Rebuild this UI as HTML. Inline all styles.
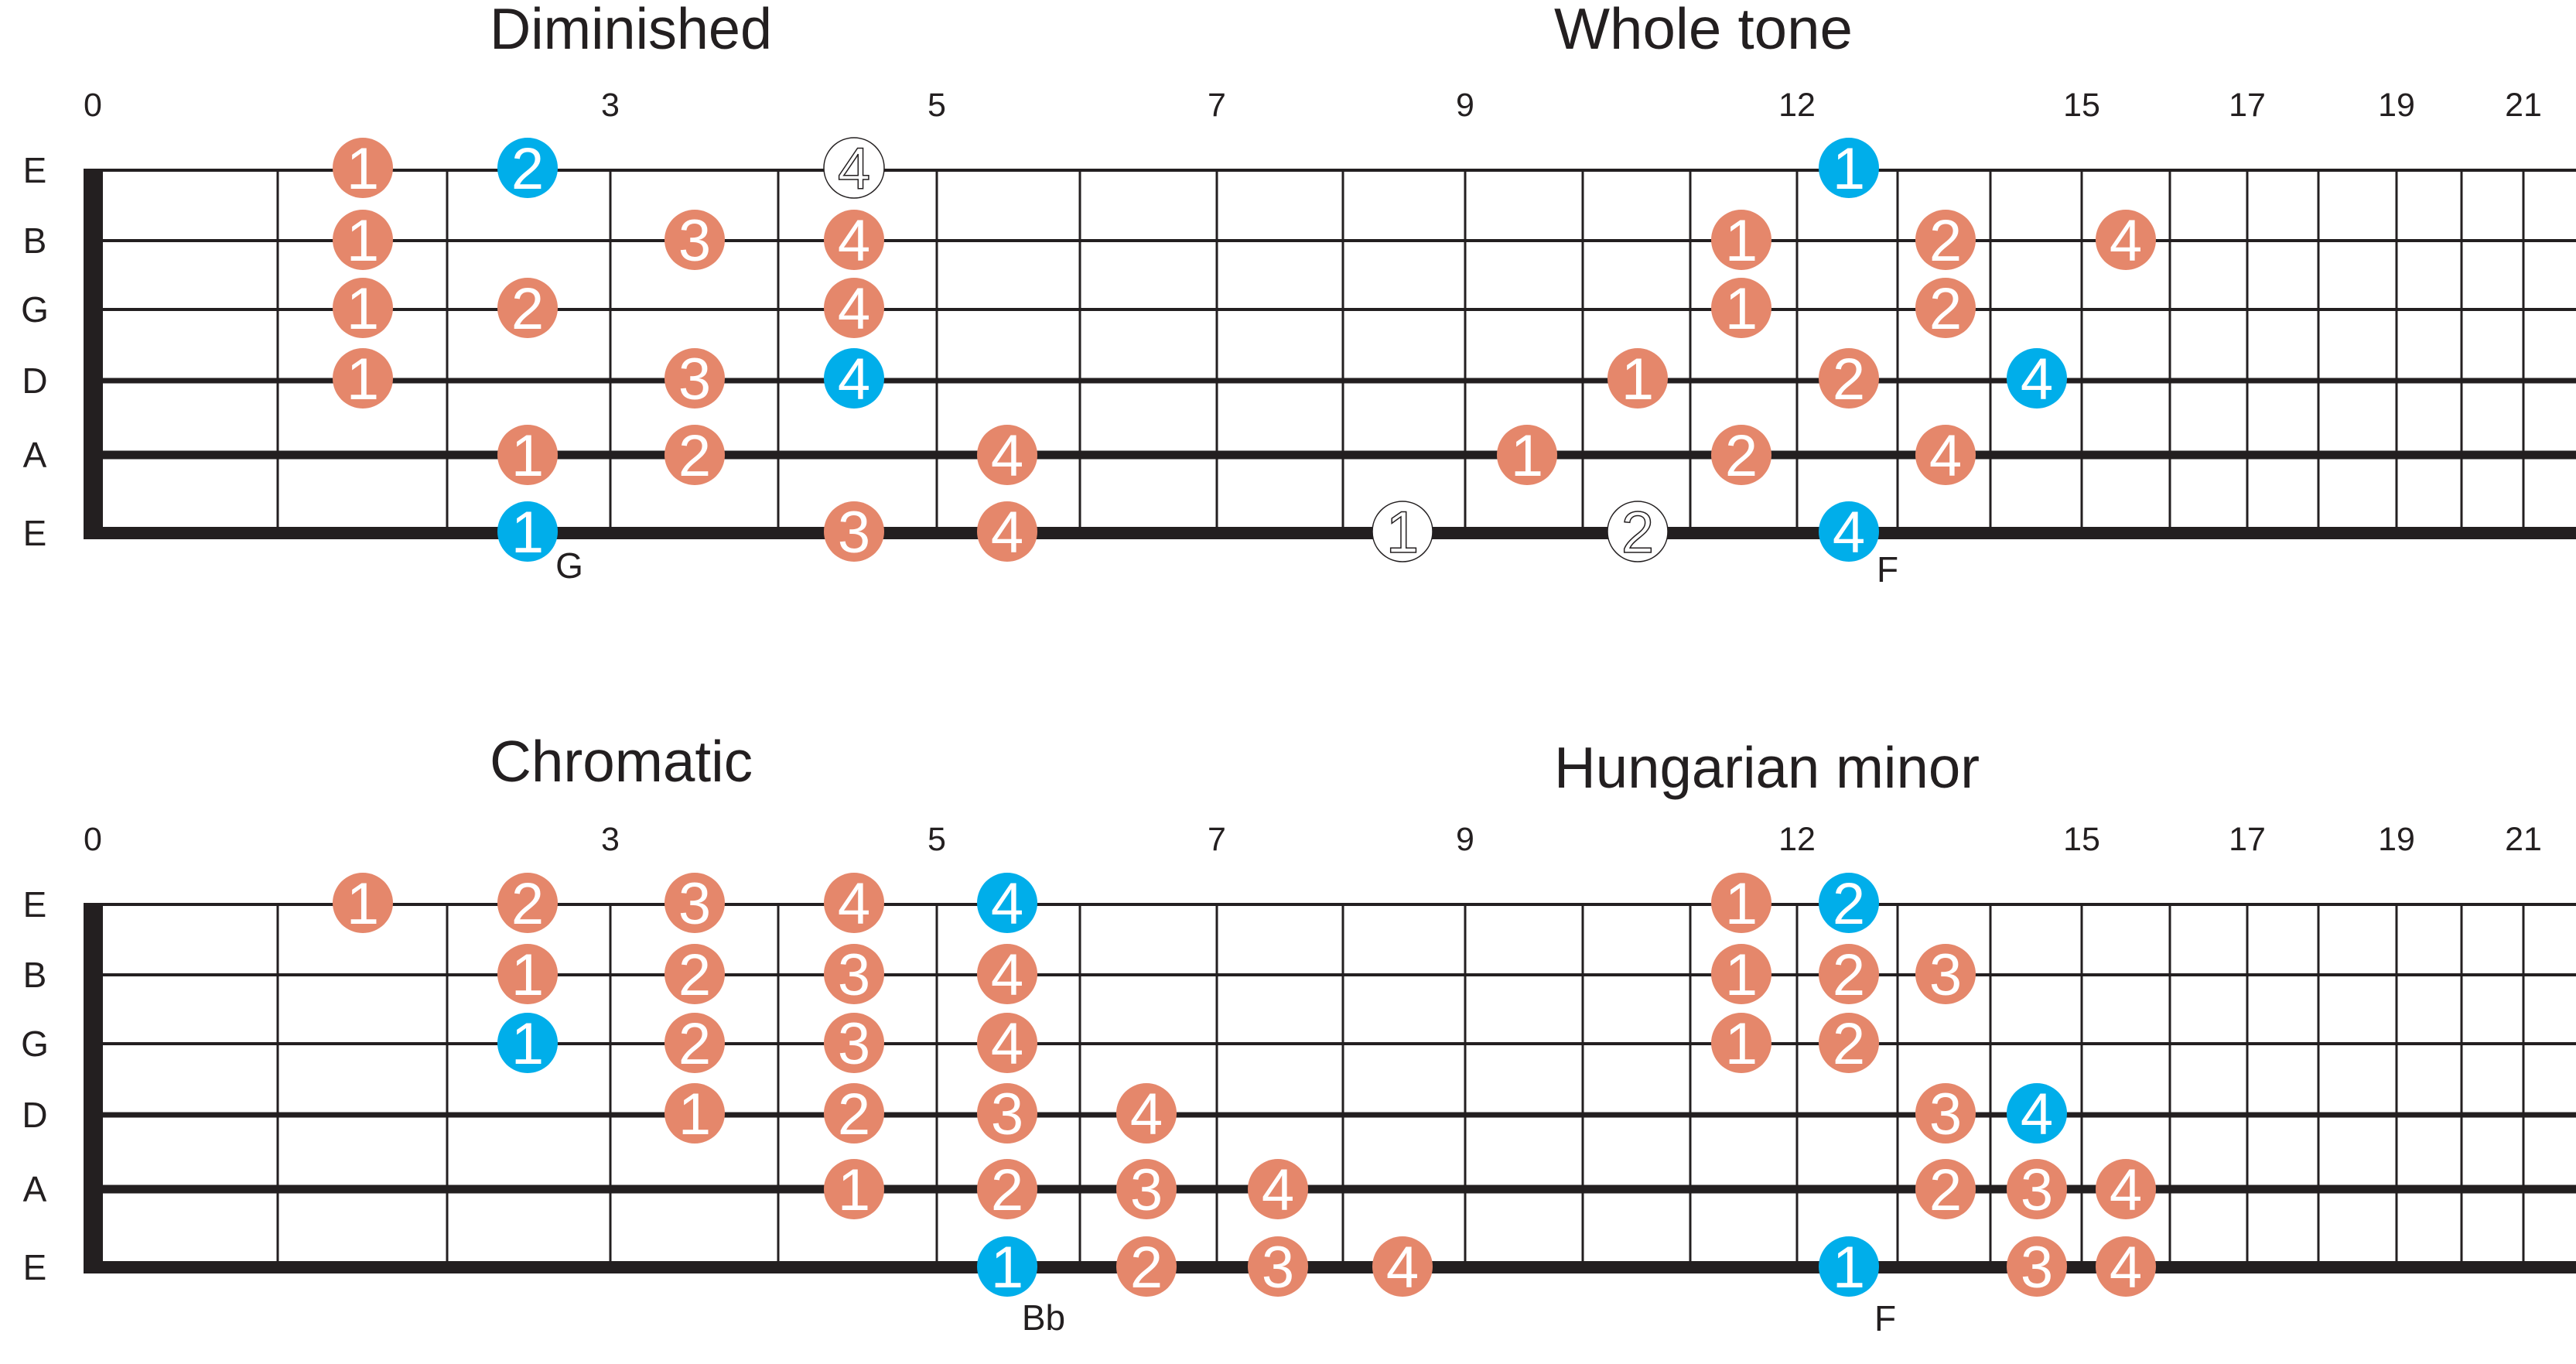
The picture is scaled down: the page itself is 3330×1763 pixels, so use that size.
<!DOCTYPE html>
<html><head><meta charset="utf-8"><style>
html,body{margin:0;padding:0;background:#fff}
svg{display:block}
text{font-family:"Liberation Sans",sans-serif;fill:#231f20}
.o{fill:#e5876b}.b{fill:#00aeea}.w{fill:#fff;stroke:#231f20;stroke-width:1.5}
.d{fill:#fff;font-size:76px;text-anchor:middle}
.dw{fill:#fff;stroke:#231f20;stroke-width:1.5;font-size:76px;text-anchor:middle}
.fn{font-size:43px;text-anchor:middle}
.sl{font-size:46px;text-anchor:middle}
.t{font-size:75px}
.nl{font-size:46px;text-anchor:middle}
</style></head><body>
<svg width="3330" height="1763" viewBox="0 0 3330 1763" xmlns="http://www.w3.org/2000/svg">
<defs>
<g id="frets" stroke="#231f20" stroke-width="3">
<line x1="359" y1="220" x2="359" y2="689"/><line x1="578" y1="220" x2="578" y2="689"/><line x1="789" y1="220" x2="789" y2="689"/><line x1="1006" y1="220" x2="1006" y2="689"/><line x1="1211" y1="220" x2="1211" y2="689"/><line x1="1396" y1="220" x2="1396" y2="689"/><line x1="1573" y1="220" x2="1573" y2="689"/><line x1="1736" y1="220" x2="1736" y2="689"/><line x1="1894" y1="220" x2="1894" y2="689"/><line x1="2046" y1="220" x2="2046" y2="689"/><line x1="2185" y1="220" x2="2185" y2="689"/><line x1="2323" y1="220" x2="2323" y2="689"/><line x1="2453" y1="220" x2="2453" y2="689"/><line x1="2573" y1="220" x2="2573" y2="689"/><line x1="2691" y1="220" x2="2691" y2="689"/><line x1="2805" y1="220" x2="2805" y2="689"/><line x1="2905" y1="220" x2="2905" y2="689"/><line x1="2997" y1="220" x2="2997" y2="689"/><line x1="3098" y1="220" x2="3098" y2="689"/><line x1="3182" y1="220" x2="3182" y2="689"/><line x1="3262" y1="220" x2="3262" y2="689"/>
<line x1="108" y1="220" x2="3330" y2="220" stroke-width="4"/>
<line x1="108" y1="311" x2="3330" y2="311" stroke-width="4"/>
<line x1="108" y1="400" x2="3330" y2="400" stroke-width="4"/>
<line x1="108" y1="492" x2="3330" y2="492" stroke-width="7"/>
<line x1="108" y1="588" x2="3330" y2="588" stroke-width="11"/>
<line x1="108" y1="689" x2="3330" y2="689" stroke-width="16"/>
<rect x="108" y="218" width="25" height="479" fill="#231f20" stroke="none"/>
</g>
</defs>
<use href="#frets"/>
<use href="#frets" y="949"/>

<!-- titles -->
<text class="t" x="633" y="63" textLength="365" lengthAdjust="spacingAndGlyphs">Diminished</text>
<text class="t" x="2009" y="63" textLength="386" lengthAdjust="spacingAndGlyphs">Whole tone</text>
<text class="t" x="633" y="1010" textLength="340" lengthAdjust="spacingAndGlyphs">Chromatic</text>
<text class="t" x="2009" y="1018" textLength="550" lengthAdjust="spacingAndGlyphs">Hungarian minor</text>

<!-- fret numbers -->
<g class="fn">
<text class="fn" x="120" y="150">0</text><text class="fn" x="789" y="150">3</text><text class="fn" x="1211" y="150">5</text><text class="fn" x="1573" y="150">7</text><text class="fn" x="1894" y="150">9</text><text class="fn" x="2323" y="150">12</text><text class="fn" x="2691" y="150">15</text><text class="fn" x="2905" y="150">17</text><text class="fn" x="3098" y="150">19</text><text class="fn" x="3262" y="150">21</text>
<text class="fn" x="120" y="1099">0</text><text class="fn" x="789" y="1099">3</text><text class="fn" x="1211" y="1099">5</text><text class="fn" x="1573" y="1099">7</text><text class="fn" x="1894" y="1099">9</text><text class="fn" x="2323" y="1099">12</text><text class="fn" x="2691" y="1099">15</text><text class="fn" x="2905" y="1099">17</text><text class="fn" x="3098" y="1099">19</text><text class="fn" x="3262" y="1099">21</text>
</g>

<!-- string letters -->
<text class="sl" x="45" y="236">E</text><text class="sl" x="45" y="327">B</text><text class="sl" x="45" y="416">G</text><text class="sl" x="45" y="508">D</text><text class="sl" x="45" y="604">A</text><text class="sl" x="45" y="705">E</text>
<text class="sl" x="45" y="1185">E</text><text class="sl" x="45" y="1276">B</text><text class="sl" x="45" y="1365">G</text><text class="sl" x="45" y="1457">D</text><text class="sl" x="45" y="1553">A</text><text class="sl" x="45" y="1654">E</text>

<!-- note labels -->
<text class="nl" x="736" y="747">G</text>
<text class="nl" x="2440" y="752">F</text>
<text class="nl" x="1349" y="1719">Bb</text>
<text class="nl" x="2437" y="1720">F</text>

<!-- TOP circles -->
<circle class="o" cx="469" cy="217" r="39"/><text class="d" x="469" y="244">1</text>
<circle class="b" cx="682" cy="217" r="39"/><text class="d" x="682" y="244">2</text>
<circle class="w" cx="1104" cy="217" r="39"/><text class="dw" x="1104" y="244">4</text>
<circle class="b" cx="2390" cy="217" r="39"/><text class="d" x="2390" y="244">1</text>

<circle class="o" cx="469" cy="310" r="39"/><text class="d" x="469" y="337">1</text>
<circle class="o" cx="898" cy="310" r="39"/><text class="d" x="898" y="337">3</text>
<circle class="o" cx="1104" cy="310" r="39"/><text class="d" x="1104" y="337">4</text>
<circle class="o" cx="2251" cy="310" r="39"/><text class="d" x="2251" y="337">1</text>
<circle class="o" cx="2515" cy="310" r="39"/><text class="d" x="2515" y="337">2</text>
<circle class="o" cx="2748" cy="310" r="39"/><text class="d" x="2748" y="337">4</text>

<circle class="o" cx="469" cy="398" r="39"/><text class="d" x="469" y="425">1</text>
<circle class="o" cx="682" cy="398" r="39"/><text class="d" x="682" y="425">2</text>
<circle class="o" cx="1104" cy="398" r="39"/><text class="d" x="1104" y="425">4</text>
<circle class="o" cx="2251" cy="398" r="39"/><text class="d" x="2251" y="425">1</text>
<circle class="o" cx="2515" cy="398" r="39"/><text class="d" x="2515" y="425">2</text>

<circle class="o" cx="469" cy="489" r="39"/><text class="d" x="469" y="516">1</text>
<circle class="o" cx="898" cy="489" r="39"/><text class="d" x="898" y="516">3</text>
<circle class="b" cx="1104" cy="489" r="39"/><text class="d" x="1104" y="516">4</text>
<circle class="o" cx="2117" cy="489" r="39"/><text class="d" x="2117" y="516">1</text>
<circle class="o" cx="2390" cy="489" r="39"/><text class="d" x="2390" y="516">2</text>
<circle class="b" cx="2633" cy="489" r="39"/><text class="d" x="2633" y="516">4</text>

<circle class="o" cx="682" cy="588" r="39"/><text class="d" x="682" y="615">1</text>
<circle class="o" cx="898" cy="588" r="39"/><text class="d" x="898" y="615">2</text>
<circle class="o" cx="1302" cy="588" r="39"/><text class="d" x="1302" y="615">4</text>
<circle class="o" cx="1974" cy="588" r="39"/><text class="d" x="1974" y="615">1</text>
<circle class="o" cx="2251" cy="588" r="39"/><text class="d" x="2251" y="615">2</text>
<circle class="o" cx="2515" cy="588" r="39"/><text class="d" x="2515" y="615">4</text>

<circle class="b" cx="682" cy="687" r="39"/><text class="d" x="682" y="714">1</text>
<circle class="o" cx="1104" cy="687" r="39"/><text class="d" x="1104" y="714">3</text>
<circle class="o" cx="1302" cy="687" r="39"/><text class="d" x="1302" y="714">4</text>
<circle class="w" cx="1813" cy="687" r="39"/><text class="dw" x="1813" y="714">1</text>
<circle class="w" cx="2117" cy="687" r="39"/><text class="dw" x="2117" y="714">2</text>
<circle class="b" cx="2390" cy="687" r="39"/><text class="d" x="2390" y="714">4</text>

<!-- BOTTOM circles -->
<circle class="o" cx="469" cy="1167" r="39"/><text class="d" x="469" y="1194">1</text>
<circle class="o" cx="682" cy="1167" r="39"/><text class="d" x="682" y="1194">2</text>
<circle class="o" cx="898" cy="1167" r="39"/><text class="d" x="898" y="1194">3</text>
<circle class="o" cx="1104" cy="1167" r="39"/><text class="d" x="1104" y="1194">4</text>
<circle class="b" cx="1302" cy="1167" r="39"/><text class="d" x="1302" y="1194">4</text>
<circle class="o" cx="2251" cy="1167" r="39"/><text class="d" x="2251" y="1194">1</text>
<circle class="b" cx="2390" cy="1167" r="39"/><text class="d" x="2390" y="1194">2</text>

<circle class="o" cx="682" cy="1259" r="39"/><text class="d" x="682" y="1286">1</text>
<circle class="o" cx="898" cy="1259" r="39"/><text class="d" x="898" y="1286">2</text>
<circle class="o" cx="1104" cy="1259" r="39"/><text class="d" x="1104" y="1286">3</text>
<circle class="o" cx="1302" cy="1259" r="39"/><text class="d" x="1302" y="1286">4</text>
<circle class="o" cx="2251" cy="1259" r="39"/><text class="d" x="2251" y="1286">1</text>
<circle class="o" cx="2390" cy="1259" r="39"/><text class="d" x="2390" y="1286">2</text>
<circle class="o" cx="2515" cy="1259" r="39"/><text class="d" x="2515" y="1286">3</text>

<circle class="b" cx="682" cy="1348" r="39"/><text class="d" x="682" y="1375">1</text>
<circle class="o" cx="898" cy="1348" r="39"/><text class="d" x="898" y="1375">2</text>
<circle class="o" cx="1104" cy="1348" r="39"/><text class="d" x="1104" y="1375">3</text>
<circle class="o" cx="1302" cy="1348" r="39"/><text class="d" x="1302" y="1375">4</text>
<circle class="o" cx="2251" cy="1348" r="39"/><text class="d" x="2251" y="1375">1</text>
<circle class="o" cx="2390" cy="1348" r="39"/><text class="d" x="2390" y="1375">2</text>

<circle class="o" cx="898" cy="1439" r="39"/><text class="d" x="898" y="1466">1</text>
<circle class="o" cx="1104" cy="1439" r="39"/><text class="d" x="1104" y="1466">2</text>
<circle class="o" cx="1302" cy="1439" r="39"/><text class="d" x="1302" y="1466">3</text>
<circle class="o" cx="1482" cy="1439" r="39"/><text class="d" x="1482" y="1466">4</text>
<circle class="o" cx="2515" cy="1439" r="39"/><text class="d" x="2515" y="1466">3</text>
<circle class="b" cx="2633" cy="1439" r="39"/><text class="d" x="2633" y="1466">4</text>

<circle class="o" cx="1104" cy="1537" r="39"/><text class="d" x="1104" y="1564">1</text>
<circle class="o" cx="1302" cy="1537" r="39"/><text class="d" x="1302" y="1564">2</text>
<circle class="o" cx="1482" cy="1537" r="39"/><text class="d" x="1482" y="1564">3</text>
<circle class="o" cx="1652" cy="1537" r="39"/><text class="d" x="1652" y="1564">4</text>
<circle class="o" cx="2515" cy="1537" r="39"/><text class="d" x="2515" y="1564">2</text>
<circle class="o" cx="2633" cy="1537" r="39"/><text class="d" x="2633" y="1564">3</text>
<circle class="o" cx="2748" cy="1537" r="39"/><text class="d" x="2748" y="1564">4</text>

<circle class="b" cx="1302" cy="1637" r="39"/><text class="d" x="1302" y="1664">1</text>
<circle class="o" cx="1482" cy="1637" r="39"/><text class="d" x="1482" y="1664">2</text>
<circle class="o" cx="1652" cy="1637" r="39"/><text class="d" x="1652" y="1664">3</text>
<circle class="o" cx="1813" cy="1637" r="39"/><text class="d" x="1813" y="1664">4</text>
<circle class="b" cx="2390" cy="1637" r="39"/><text class="d" x="2390" y="1664">1</text>
<circle class="o" cx="2633" cy="1637" r="39"/><text class="d" x="2633" y="1664">3</text>
<circle class="o" cx="2748" cy="1637" r="39"/><text class="d" x="2748" y="1664">4</text>
</svg>
</body></html>
